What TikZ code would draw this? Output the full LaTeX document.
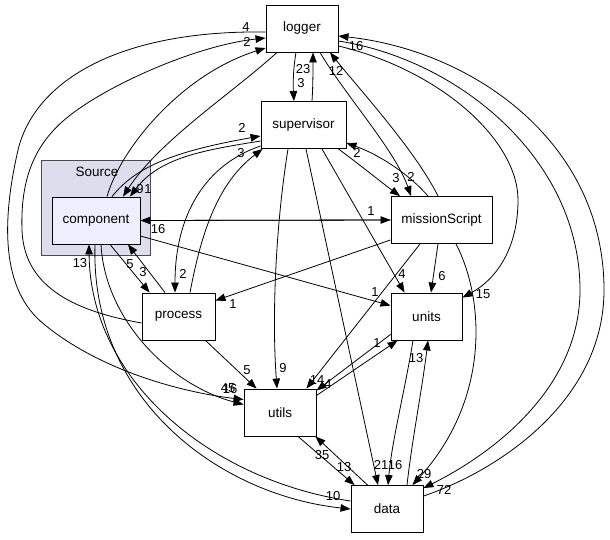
\documentclass[tikz,border=0pt]{standalone}
\usepackage{fontspec}
\setmainfont{Liberation Sans}
\usetikzlibrary{arrows.meta}
\definecolor{clusterfill}{HTML}{DDDDEE}
\definecolor{currentfill}{HTML}{EEEEFF}

\begin{document}
\begin{tikzpicture}[
        x=1pt, y=-1pt,
        dir_box/.style={rectangle, draw=black, line width=0.9pt, fill=white, minimum height=47pt, inner sep=0pt, font=\fontsize{13.5}{16}\selectfont},
        current/.style={dir_box, fill=currentfill},
        cluster/.style={rectangle, draw=black!70, line width=0.9pt, fill=clusterfill, minimum width=109pt, minimum height=95pt},
        dep/.style={-{Triangle[length=10pt, width=7.5pt]}, line width=0.8pt},
        num/.style={font=\fontsize{13}{15}\selectfont, inner sep=0pt}
    ]
    \useasboundingbox (0,0) rectangle (610,539);

    % Cluster: Source
    \node[cluster] (source) at (95.5,207.5) {};
    \node[font=\fontsize{13.5}{16}\selectfont] (source_title) at (97,172) {Source};

    % Directories manually positioned
    \node[current, minimum width=88pt] (component) at (96,220.5) {component};
    \node[dir_box, minimum width=72pt] (logger) at (302,28.5) {logger};
    \node[dir_box, minimum width=85pt] (supervisor) at (303.5,125) {supervisor};
    \node[dir_box, minimum width=101pt] (mission) at (441.5,220) {missionScript};
    \node[dir_box, minimum width=71pt] (units) at (426.5,316.5) {units};
    \node[dir_box, minimum width=73pt] (process) at (178.5,316.5) {process};
    \node[dir_box, minimum width=72pt] (utils) at (280,412.5) {utils};
    \node[dir_box, minimum width=72pt] (data) at (387,509) {data};

    % logger <-> supervisor
    \draw[dep] ([xshift=-6pt]logger.south) .. controls (293,70) and (293,85) .. ([xshift=-9.5pt]supervisor.north);
    \draw[dep] ([xshift=8.5pt]supervisor.north) .. controls (313,85) and (313,70) .. ([xshift=11pt]logger.south);

    % logger <-> missionScript
    \draw[dep] ([xshift=18pt]logger.south) .. controls (345,95) and (395,150) .. ([xshift=-30.5pt]mission.north);
    \draw[dep] ([xshift=-3.5pt]mission.north) .. controls (415,150) and (360,90) .. ([xshift=28pt]logger.south);

    % Right side: data <-> logger, logger -> units
    \draw[dep] ([yshift=-11pt]data.north east) .. controls (500,470) and (604,400) .. (604,290) .. controls (604,140) and (470,50) .. ([yshift=-7.5pt]logger.east);
    \draw[dep] ([yshift=-12.5pt]logger.east) .. controls (460,60) and (580,160) .. (580,290) .. controls (580,390) and (490,455) .. ([yshift=-3pt]data.north east);
    \draw[dep] ([yshift=-17.5pt]logger.east) .. controls (440,70) and (518,140) .. (518,200) .. controls (518,250) and (495,280) .. ([yshift=-5pt]units.north east);

    % Left side curves into and out of logger
    \draw[dep] ([yshift=-3.5pt]logger.west) .. controls (120,30) and (35,80) .. (18,150) .. controls (2,220) and (0,290) .. (45,325) .. controls (100,370) and (180,392) .. ([yshift=-11pt]utils.north west);
    \draw[dep] ([yshift=-6.5pt]process.west) .. controls (80,312) and (24,290) .. (22,230) .. controls (20,170) and (40,135) .. (80,108) .. controls (120,80) and (200,45) .. ([yshift=-9.5pt]logger.west);
    \draw[dep] ([xshift=11pt]component.north) .. controls (120,150) and (180,75) .. ([yshift=-19.5pt]logger.west);
    \draw[dep] ([xshift=-25pt]logger.south) .. controls (230,95) and (160,140) .. ([xshift=27pt]component.north);

    % component <-> supervisor
    \draw[dep] ([xshift=16pt]component.north) .. controls (135,168) and (170,152) .. ([yshift=-11pt]supervisor.west);
    \draw[dep] ([yshift=-16pt]supervisor.west) .. controls (205,150) and (160,157) .. ([xshift=34pt]component.north);

    % process <-> supervisor
    \draw[dep] ([xshift=11.5pt]process.north) .. controls (200,240) and (215,185) .. ([xshift=2pt]supervisor.south west);
    \draw[dep] ([yshift=3pt]supervisor.south west) .. controls (205,165) and (175,215) .. ([xshift=-3.5pt]process.north);

    % supervisor <-> missionScript
    \draw[dep] ([xshift=-8pt]supervisor.south east) .. controls (360,165) and (385,185) .. ([xshift=-41.5pt]mission.north);
    \draw[dep] ([xshift=-13.5pt]mission.north) .. controls (410,175) and (380,155) .. ([yshift=6pt]supervisor.south east);

    % component <-> missionScript
    \draw[dep] (mission.west) -- (component.east);
    \draw[dep] (component.east) -- (mission.west);

    % Straight dependencies
    \draw[dep] ([yshift=4pt]mission.south west) -- ([yshift=-8pt]process.north east);
    \draw[dep] ([yshift=-15.5pt]component.east) -- ([yshift=-13pt]units.north west);
    \draw[dep] ([xshift=18.5pt]supervisor.south) -- ([xshift=14pt]units.north west);
    \draw[dep] ([xshift=-3.5pt]mission.south) -- ([xshift=4.5pt]units.north);
    \draw[dep] ([xshift=-21.5pt]mission.south) -- ([xshift=-10pt]utils.north east);
    \draw[dep] ([yshift=6pt]units.south west) -- ([yshift=-2pt]utils.north east);
    \draw[dep] ([yshift=-7pt]utils.north east) -- ([xshift=7pt]units.south west);
    \draw[dep] ([xshift=-15.5pt]supervisor.south) .. controls (275,230) and (272,320) .. ([xshift=-3pt]utils.north);
    \draw[dep] ([xshift=-10pt]process.south east) -- ([xshift=13pt]utils.north west);
    \draw[dep] ([xshift=2.5pt]supervisor.south) -- ([xshift=-9pt]data.north);
    \draw[dep] ([xshift=-13.5pt]units.south) .. controls (405,390) and (392,440) .. ([xshift=1pt]data.north);
    \draw[dep] ([xshift=20pt]data.north) .. controls (412,440) and (422,390) .. ([xshift=1.5pt]units.south);
    \draw[dep] ([xshift=18pt]utils.south) -- ([xshift=4pt]data.north west);
    \draw[dep] ([xshift=17pt]data.north west) -- ([xshift=-1pt]utils.south east);
    \draw[dep] ([xshift=14.5pt]mission.south) .. controls (485,300) and (490,400) .. ([xshift=-11pt]data.north east);

    % component <-> process, data, utils
    \draw[dep] ([xshift=14pt]component.south) -- ([xshift=8pt]process.north west);
    \draw[dep] ([xshift=-13.5pt]process.north) -- ([xshift=32pt]component.south);
    \draw[dep] ([xshift=-1pt]component.south) .. controls (90,400) and (220,495) .. (data.west);
    \draw[dep] ([yshift=8pt]data.west) .. controls (210,480) and (90,380) .. ([xshift=-7pt]component.south);
    \draw[dep] ([xshift=5pt]component.south) .. controls (105,320) and (170,385) .. ([yshift=-16pt]utils.north west);

    % Edge counts
    \node[num] (n_pl) at (246,27) {4};
    \node[num] (n_cl) at (247,42) {2};
    \node[num] (n_sl) at (303,69.5) {23};
    \node[num] (n_ls) at (301,83) {3};
    \node[num] (n_ml) at (336,71) {12};
    \node[num] (n_dl) at (356,46) {16};
    \node[num] (n_sm) at (396,178) {3};
    \node[num] (n_lm) at (411,177) {2};
    \node[num] (n_ms) at (357,153) {2};
    \node[num] (n_cs) at (242,128) {2};
    \node[num] (n_ps) at (241,153) {3};
    \node[num] (n_sc) at (140,189) {9};
    \node[num] (n_lc) at (148,189) {1};
    \node[num] (n_mc) at (158,229) {16};
    \node[num] (n_cm) at (371,211) {1};
    \node[num] (n_pc) at (130,264) {5};
    \node[num] (n_cp) at (143,272) {3};
    \node[num] (n_sp) at (183,274) {2};
    \node[num] (n_mp) at (233,304) {1};
    \node[num] (n_dc) at (80,263) {13};
    \node[num] (n_cu) at (375,292) {1};
    \node[num] (n_su) at (402,274) {4};
    \node[num] (n_mu) at (442,276) {6};
    \node[num] (n_lu) at (483,294) {15};
    \node[num] (n_mt) at (317,380) {14};
    \node[num] (n_ut) at (328,384) {4};
    \node[num] (n_tu) at (377,343) {1};
    \node[num] (n_st) at (283,368) {9};
    \node[num] (n_pt) at (247,370) {5};
    \node[num] (n_lt) at (228,388) {45};
    \node[num] (n_ct) at (230,389) {16};
    \node[num] (n_du) at (416,358) {13};
    \node[num] (n_sd) at (381,465) {21};
    \node[num] (n_ud) at (395,465) {16};
    \node[num] (n_td) at (344,467) {13};
    \node[num] (n_dt) at (322,455) {35};
    \node[num] (n_md) at (424,474) {29};
    \node[num] (n_ld) at (444,490) {72};
    \node[num] (n_cd) at (333,496) {10};

    \end{tikzpicture}
\end{document}
